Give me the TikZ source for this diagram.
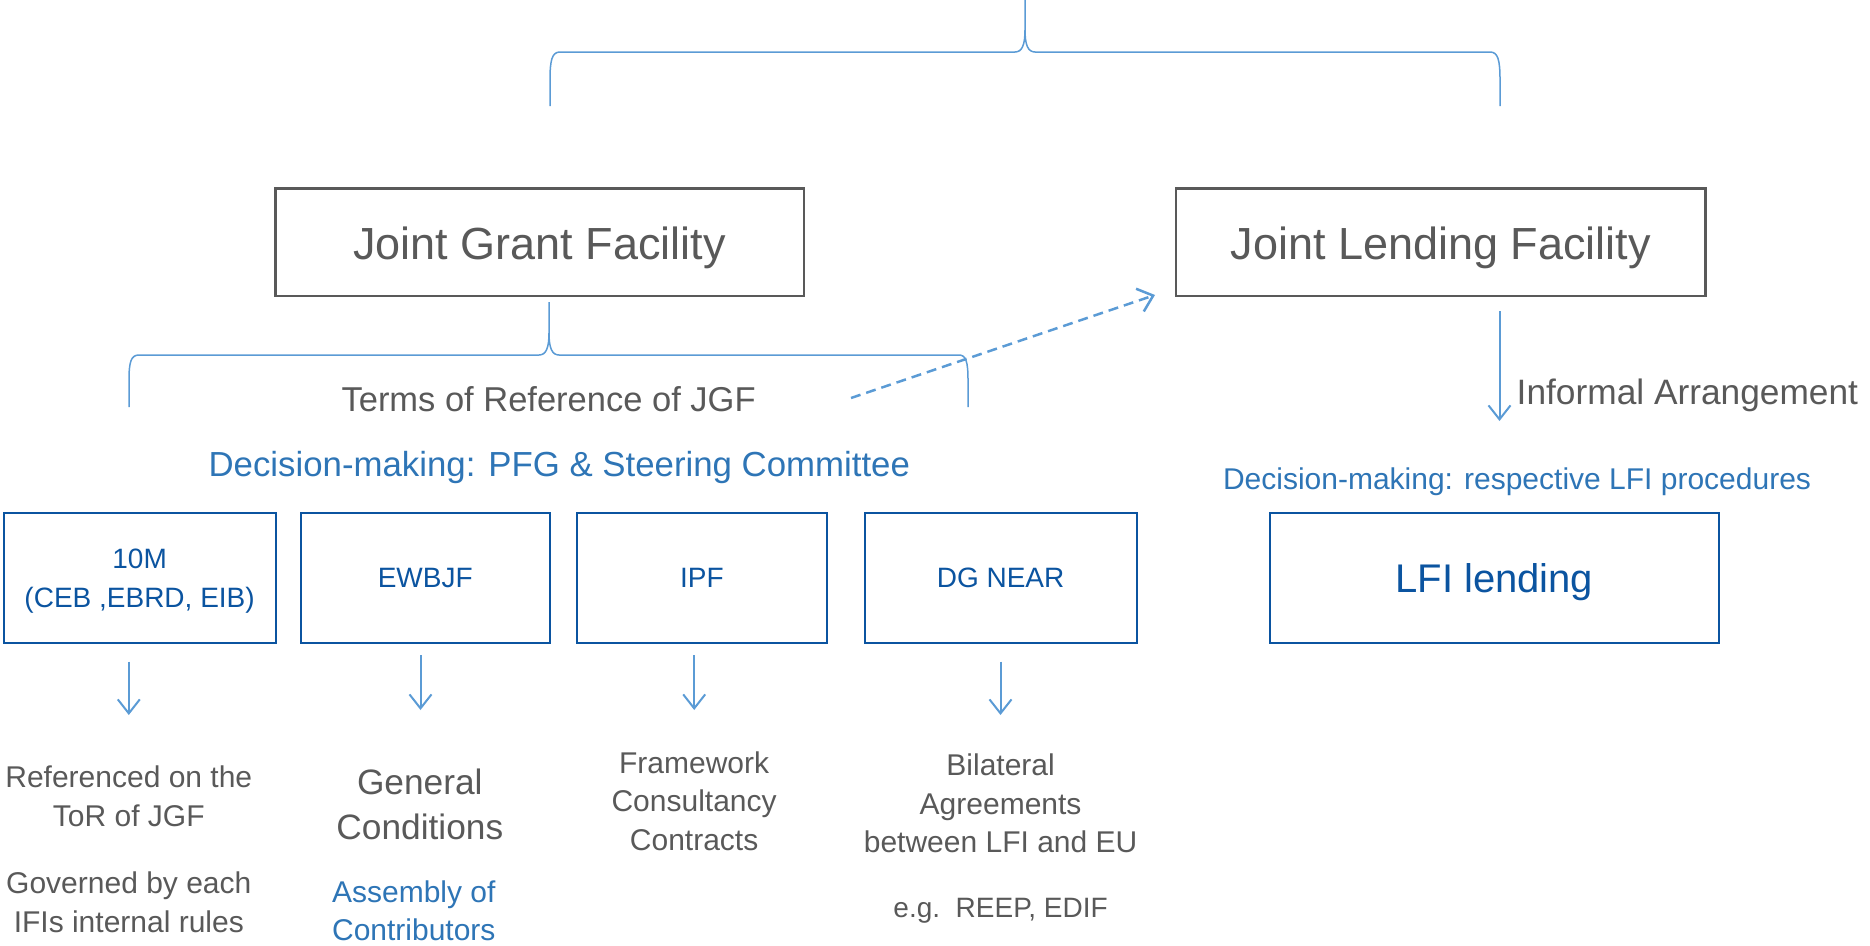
\documentclass[tikz,border=0pt]{standalone}
\usepackage{fontspec}
\setmainfont{Liberation Sans}
\usetikzlibrary{arrows.meta,calc}
\definecolor{txtgray}{HTML}{595959}
\definecolor{lblue}{HTML}{2E75B6}
\definecolor{dblue}{HTML}{0B54A0}
\definecolor{abl}{HTML}{5B9BD5}
\newcommand{\fsz}[2]{\fontsize{#1}{#2}\selectfont}
\begin{document}
\begin{tikzpicture}[x=1pt,y=-1pt,
  graybox/.style={draw=txtgray, line width=2.5pt, inner sep=0pt, minimum height=107.4pt, text=txtgray, font=\fsz{45}{50}, text depth=0pt},
  bluebox/.style={draw=dblue, line width=2pt, inner sep=0pt, minimum height=130pt, text=dblue, font=\fsz{28}{39}, align=center, text depth=0pt},
  gtext/.style={text=txtgray, inner sep=0pt, align=center, text depth=0pt},
  btext/.style={text=lblue, inner sep=0pt, align=center, text depth=0pt},
  brace/.style={draw=abl, line width=1.5pt},
  arr/.style={draw=abl, line width=2pt, -{Straight Barb[length=14pt,width=22pt]}},
  darr/.style={draw=abl, line width=2.5pt, dash pattern=on 10pt off 6pt, -{Straight Barb[length=14pt,width=24pt]}}
]
\useasboundingbox (0,0) rectangle (1870,945);

% top brace
\draw[brace] (550,106) -- (550,80) .. controls (550,60) and (552,52) .. (560,52) -- (1015,52) .. controls (1022,52) and (1025,45) .. (1025,30) -- (1025,0);
\draw[brace] (1025,30) .. controls (1025,45) and (1028,52) .. (1035,52) -- (1490,52) .. controls (1498,52) and (1500,60) .. (1500,80) -- (1500,106);

% facility boxes
\node[graybox, minimum width=528.3pt] (jgf) at (539.6,242.1) {\raisebox{-3pt}{Joint Grant Facility}};
\node[graybox, minimum width=529.5pt] (jlf) at (1440.6,242.1) {\raisebox{-3pt}{Joint Lending Facility}};

% second brace
\draw[brace] (129,407) -- (129,380) .. controls (129,362) and (131,355) .. (139,355) -- (539,355) .. controls (546,355) and (549,348) .. (549,333) -- (549,302);
\draw[brace] (549,333) .. controls (549,348) and (552,355) .. (559,355) -- (959,355) .. controls (966,355) and (968,362) .. (968,380) -- (968,407);

% texts middle
\node[gtext, font=\fsz{34.5}{40}] (tor) at (548.6,399.5) {Terms of Reference of JGF};
\node[btext, font=\fsz{34.8}{40}] (dpfg) at (559.3,463.9) {Decision-making: PFG \& Steering Committee};
\node[btext, font=\fsz{30}{36}] (dlfi) at (1517,478.2) {Decision-making: respective LFI procedures};
\node[gtext, font=\fsz{35.3}{40}, anchor=west] (inf) at (1516.5,391.5) {Informal Arrangement};

% arrows to JLF
\coordinate (ds) at (851,398);
\coordinate (de) at (1155,295);
\draw[darr] (ds) -- (de);
\coordinate (js) at (1499.5,311);
\coordinate (je) at (1499.5,421);
\draw[arr] (js) -- (je);

% blue boxes
\node[bluebox, minimum width=272pt] (b1) at (139.6,577.8) {10M\\(CEB ,EBRD, EIB)};
\node[bluebox, minimum width=249.3pt] (b2) at (425.2,577.8) {EWBJF};
\node[bluebox, minimum width=249.3pt] (b3) at (701.9,577.8) {IPF};
\node[bluebox, minimum width=272pt] (b4) at (1000.6,577.8) {DG NEAR};
\node[bluebox, minimum width=448.4pt, font=\fsz{40}{44}] (lfi) at (1494.3,577.8) {LFI lending};

% arrows below boxes
\coordinate (a1s) at (128.8,661.5); \coordinate (a1e) at (128.8,715);
\coordinate (a2s) at (420.5,655); \coordinate (a2e) at (420.5,710);
\coordinate (a3s) at (694.2,655); \coordinate (a3e) at (694.2,710);
\coordinate (a4s) at (1000.5,661.5); \coordinate (a4e) at (1000.5,715);
\draw[arr] (a1s) -- (a1e);
\draw[arr] (a2s) -- (a2e);
\draw[arr] (a3s) -- (a3e);
\draw[arr] (a4s) -- (a4e);

% bottom texts
\node[gtext, font=\fsz{30}{38.5}] (t1a) at (128.8,796) {Referenced on the\\ToR of JGF};
\node[gtext, font=\fsz{30}{38.5}] (t1b) at (128.8,902) {Governed by each\\IFIs internal rules};
\node[gtext, font=\fsz{35.3}{45}] (t2a) at (419.8,804) {General\\Conditions};
\node[btext, font=\fsz{30}{38}] (t2b) at (413.8,911) {Assembly of\\Contributors};
\node[gtext, font=\fsz{30}{38.5}] (t3) at (694.1,801) {Framework\\Consultancy\\Contracts};
\node[gtext, font=\fsz{30}{38.5}] (t4a) at (1000.6,803.5) {Bilateral\\Agreements\\between LFI and EU};
\node[gtext, font=\fsz{28}{34}] (t4b) at (1000.6,908) {e.g.\ \ REEP, EDIF};
\end{tikzpicture}
\end{document}
